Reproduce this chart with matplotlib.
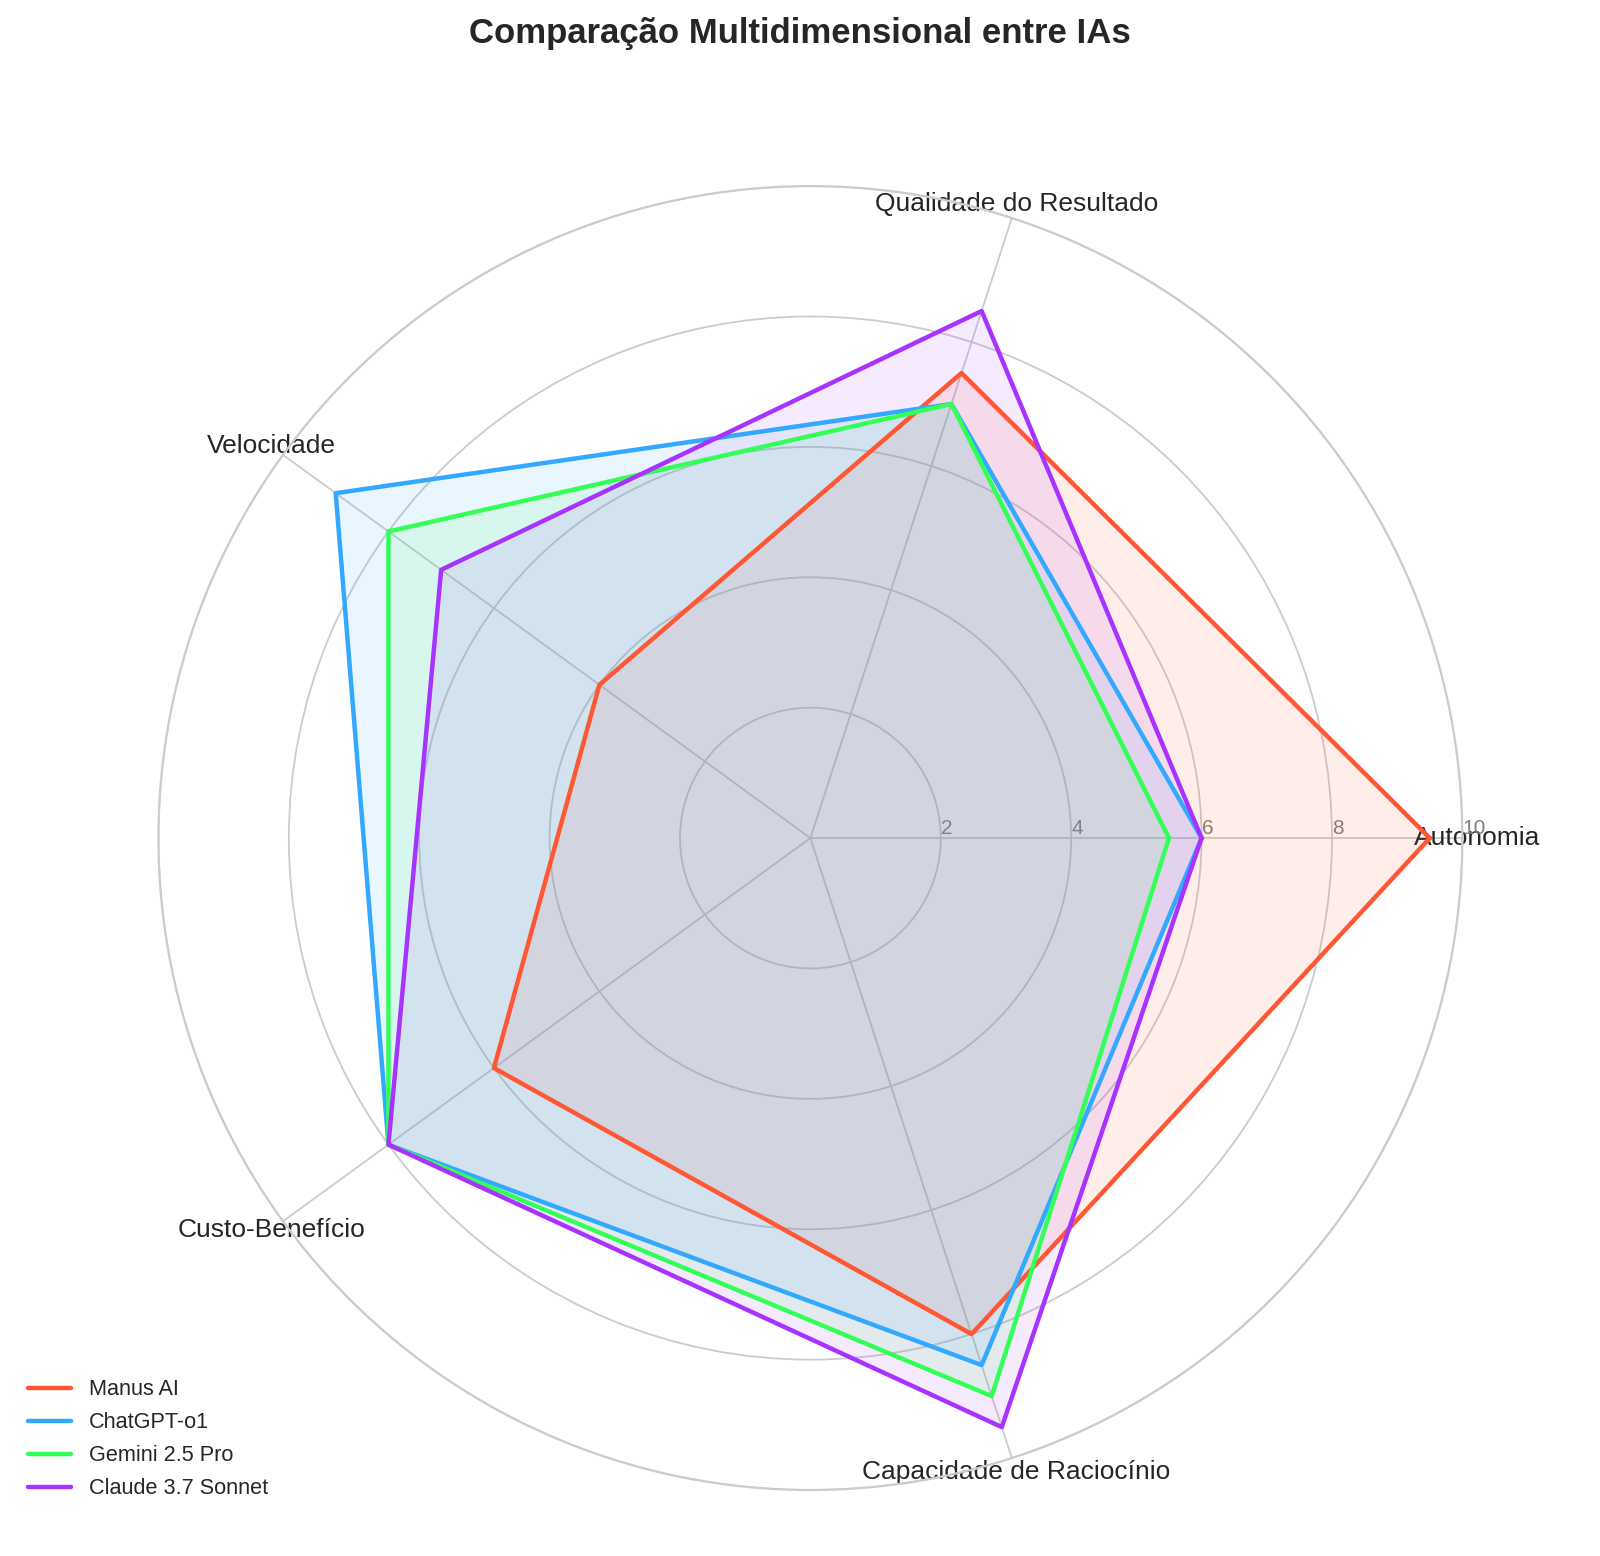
import matplotlib
matplotlib.use('Agg')
import matplotlib.pyplot as plt
import numpy as np

plt.style.use('seaborn-v0_8-whitegrid')
plt.rcParams['font.family'] = ['Liberation Sans', 'DejaVu Sans']

# categorias e valores
categorias = ['Autonomia', 'Qualidade do Resultado', 'Velocidade',
              'Custo-Benefício', 'Capacidade de Raciocínio']
modelos = ['Manus AI', 'ChatGPT-o1', 'Gemini 2.5 Pro', 'Claude 3.7 Sonnet']
manus = [9.5, 7.5, 4, 6, 8]
chatgpt = [6, 7, 9, 8, 8.5]
gemini = [5.5, 7, 8, 8, 9]
claude = [6, 8.5, 7, 8, 9.5]
cores = ['#FF5733', '#33A8FF', '#33FF57', '#A833FF']

valores = [manus, chatgpt, gemini, claude]

N = len(categorias)
angulos = np.linspace(0, 2 * np.pi, N, endpoint=False).tolist()
angulos += angulos[:1]

fig = plt.figure(figsize=(16, 15.56), dpi=100)
ax = fig.add_axes([0.099, 0.0424, 0.815, 0.838], polar=True)

for nome, vals, cor in zip(modelos, valores, cores):
    v = vals + vals[:1]
    ax.plot(angulos, v, color=cor, linewidth=3.2, label=nome)
    ax.fill(angulos, v, color=cor, alpha=0.1)

ax.set_xticks(angulos[:-1])
ax.set_xticklabels(categorias, fontsize=19)
ax.set_ylim(0, 10)
ax.set_yticks([2, 4, 6, 8, 10])
ax.set_yticklabels(['2', '4', '6', '8', '10'], color='grey', fontsize=15)
ax.set_rlabel_position(0)
ax.grid(color='#cccccc', linewidth=1.3)
ax.spines['polar'].set_color('#cccccc')
ax.spines['polar'].set_linewidth(1.6)

fig.suptitle('Comparação Multidimensional entre IAs', fontsize=25,
             fontweight='bold', y=0.989)
ax.legend(loc='lower left', bbox_to_anchor=(-0.115, -0.022), fontsize=15.6,
          frameon=False, labelspacing=0.55)

plt.savefig('out.png', dpi=100)
